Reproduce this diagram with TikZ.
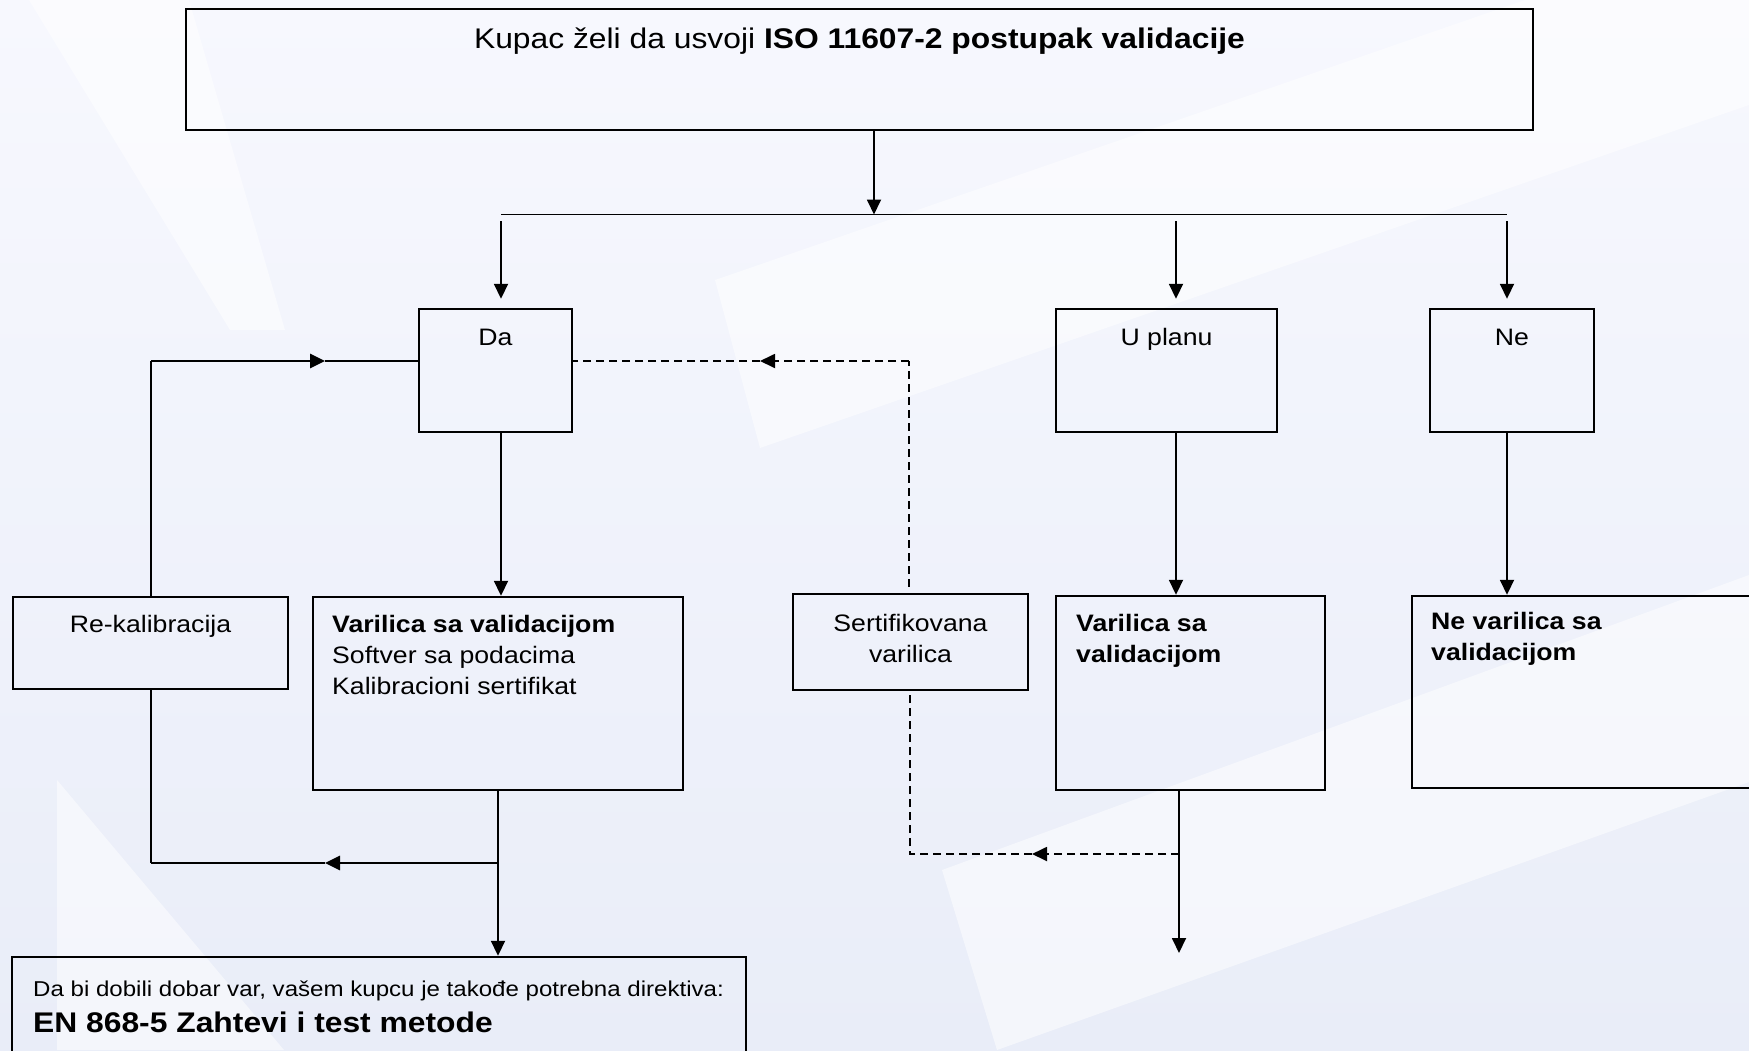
\documentclass[tikz,border=0pt]{standalone}
\usepackage{fontspec}
\setmainfont{Liberation Sans}[FakeStretch=1.12]
\usetikzlibrary{arrows.meta}
\definecolor{bgtop}{HTML}{F7F8FE}
\definecolor{bgbot}{HTML}{E9EDF8}
\begin{document}
\begin{tikzpicture}[x=1pt,y=-1pt,
  box/.style={draw=black, line width=2.4pt, inner sep=0pt, rectangle},
  txt/.style={inner sep=0pt, font=\fontsize{23.8}{28}\selectfont},
  bigtxt/.style={inner sep=0pt, font=\fontsize{28.4}{33}\selectfont},
  smalltxt/.style={inner sep=0pt, font=\fontsize{21.5}{26}\selectfont},
  conn/.style={line width=1.8pt},
  heavy/.style={line width=2.8pt},
  dashline/.style={line width=1.8pt, dash pattern=on 8pt off 5pt},
  arr/.style={-{Triangle[length=15pt,width=14pt]}},
  wm/.style={fill=white, opacity=0.5}
]
\useasboundingbox (0,0) rectangle (1749,1050);
\clip (0,0) rectangle (1749,1050);
\shade[top color=bgtop, bottom color=bgbot] (0,0) rectangle (1749,1050);
% watermark shapes
\fill[wm] (29,0) -- (189,0) -- (285,330) -- (230,330) -- cycle;
\fill[wm] (715,280) -- (1525,0) -- (1749,0) -- (1749,105) -- (760,448) -- cycle;
\fill[wm] (942,870) -- (1749,575) -- (1749,782) -- (997,1050) -- cycle;
\fill[wm] (57,780) -- (57,1050) -- (284,1050) -- cycle;

% boxes
\node[box, minimum width=1347pt, minimum height=121pt] (top) at (859.5,69.5) {};
\node[box, minimum width=153pt, minimum height=123pt] (da) at (495.5,370.5) {};
\node[box, minimum width=221pt, minimum height=123pt] (uplanu) at (1166.5,370.5) {};
\node[box, minimum width=164pt, minimum height=123pt] (ne) at (1512,370.5) {};
\node[box, minimum width=275pt, minimum height=92pt] (rekal) at (150.5,643) {};
\node[box, minimum width=370pt, minimum height=193pt] (varl) at (498,693.5) {};
\node[box, minimum width=235pt, minimum height=96pt] (sert) at (910.5,642) {};
\node[box, minimum width=269pt, minimum height=194pt] (varm) at (1190.5,693) {};
\node[box, minimum width=358pt, minimum height=192pt] (nevar) at (1591,692) {};
\node[box, minimum width=734pt, minimum height=115pt] (bottom) at (379,1014.5) {};

% texts
\node[bigtxt, anchor=base] (ttitle) at (859.5,48) {Kupac želi da usvoji \textbf{ISO 11607-2 postupak validacije}};
\node[txt, anchor=base] (tda) at (495.5,345) {Da};
\node[txt, anchor=base] (tup) at (1166.5,345) {U planu};
\node[txt, anchor=base] (tne) at (1512,345) {Ne};
\node[txt, anchor=base] (trk) at (150.5,632) {Re-kalibracija};
\node[txt, anchor=base west] (tvl1) at (332,632) {\textbf{Varilica sa validacijom}};
\node[txt, anchor=base west] (tvl2) at (332,663) {Softver sa podacima};
\node[txt, anchor=base west] (tvl3) at (332,694) {Kalibracioni sertifikat};
\node[txt, anchor=base] (ts1) at (910.5,631) {Sertifikovana};
\node[txt, anchor=base] (ts2) at (910.5,662) {varilica};
\node[txt, anchor=base west] (tvm1) at (1076,631) {\textbf{Varilica sa}};
\node[txt, anchor=base west] (tvm2) at (1076,662) {\textbf{validacijom}};
\node[txt, anchor=base west] (tnv1) at (1431,629) {\textbf{Ne varilica sa}};
\node[txt, anchor=base west] (tnv2) at (1431,660) {\textbf{validacijom}};
\node[smalltxt, anchor=base west] (tb1) at (33,996) {Da bi dobili dobar var, vašem kupcu je takođe potrebna direktiva:};
\node[bigtxt, anchor=base west] (tb2) at (33,1032) {\textbf{EN 868-5 Zahtevi i test metode}};

% coordinates
\coordinate (ta) at (874,214.5);
\coordinate (h1) at (501,214.5);
\coordinate (h4) at (1507,214.5);
\coordinate (d1) at (501,221);
\coordinate (d2) at (1176,221);
\coordinate (d3) at (1507,221);
\coordinate (vb) at (498,0);
\coordinate (j1) at (498,863);
\coordinate (a1) at (325,863);
\coordinate (c1) at (151,863);
\coordinate (c2) at (151,361);
\coordinate (a2) at (325,361);
\coordinate (e1) at (909,361);
\coordinate (a3) at (760,361);
\coordinate (e2) at (910,854);
\coordinate (j2) at (1179,854);
\coordinate (a4) at (1032,854);
\coordinate (mend) at (1179,953);

% connectors
\draw[conn, arr] (top.south -| ta) -- (ta);
\draw[conn] (h1) -- (h4);
\draw[conn, arr, shorten >=9pt] (d1) -- (d1 |- da.north);
\draw[conn, arr, shorten >=9pt] (d2) -- (d2 |- uplanu.north);
\draw[conn, arr, shorten >=9pt] (d3) -- (d3 |- ne.north);
\draw[conn, arr] (da.south -| d1) -- (d1 |- varl.north);
\draw[conn, arr] (uplanu.south -| d2) -- (d2 |- varm.north);
\draw[conn, arr] (ne.south -| d3) -- (d3 |- nevar.north);
\draw[conn, arr] (varl.south -| vb) -- (vb |- bottom.north);
\draw[heavy, arr] (j1) -- (a1);
\draw[heavy] (a1) -- (c1);
\draw[conn] (c1) -- (c1 |- rekal.south);
\draw[conn] (rekal.north -| c2) -- (c2);
\draw[heavy, arr] (c2) -- (a2);
\draw[heavy] (a2) -- (da.west |- a2);
\draw[dashline, shorten <=6pt] (sert.north -| e1) -- (e1);
\draw[dashline, arr] (e1) -- (a3);
\draw[dashline] (a3) -- (da.east |- a3);
\draw[conn, arr] (varm.south -| j2) -- (mend);
\draw[dashline, arr] (j2) -- (a4);
\draw[dashline, shorten >=3pt] (a4) -- (e2) -- (sert.south -| e2);
\end{tikzpicture}
\end{document}
